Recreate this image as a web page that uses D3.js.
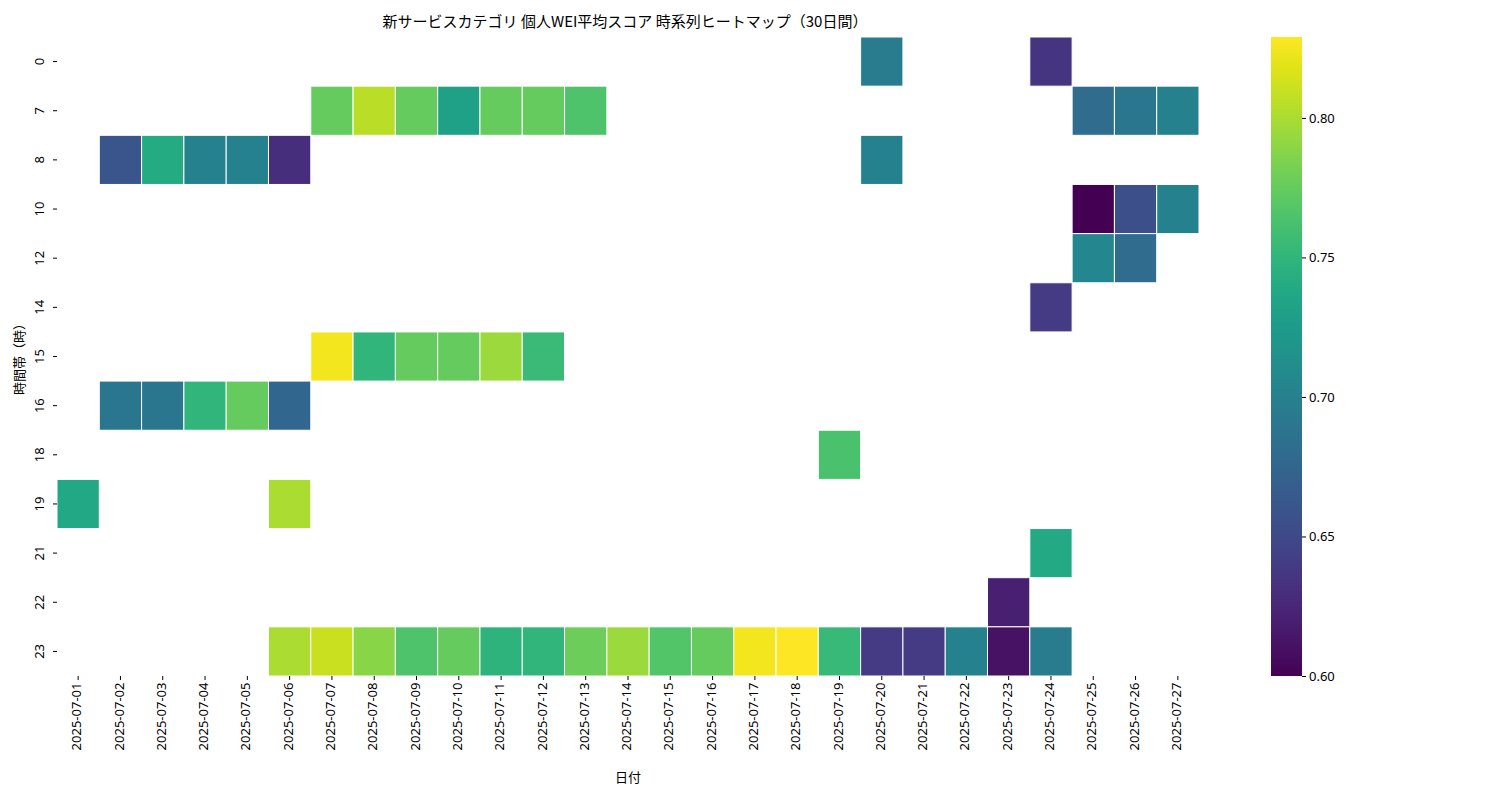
<!DOCTYPE html>
<html><head><meta charset="utf-8">
<script src="https://cdn.jsdelivr.net/npm/d3@7"></script>
<style>body{margin:0;background:#fff;font-family:"Noto Sans CJK JP","Noto Sans",sans-serif;}</style>
</head><body><svg id="chart" width="1500" height="800"></svg>
<script>
var dates = d3.range(1, 28).map(function(d) { return "2025-07-" + (d < 10 ? "0" + d : d); });
var hours = [0, 7, 8, 10, 12, 14, 15, 16, 18, 19, 21, 22, 23];
// [hour, day, value]
var cells = [
  [0, 20, 0.695], [0, 24, 0.635],
  [7, 7, 0.775], [7, 8, 0.805], [7, 9, 0.775], [7, 10, 0.73], [7, 11, 0.775], [7, 12, 0.775], [7, 13, 0.765],
  [7, 25, 0.68], [7, 26, 0.69], [7, 27, 0.70],
  [8, 2, 0.66], [8, 3, 0.74], [8, 4, 0.70], [8, 5, 0.70], [8, 6, 0.63], [8, 20, 0.70],
  [10, 25, 0.60], [10, 26, 0.655], [10, 27, 0.70],
  [12, 25, 0.705], [12, 26, 0.68],
  [14, 24, 0.64],
  [15, 7, 0.825], [15, 8, 0.75], [15, 9, 0.775], [15, 10, 0.775], [15, 11, 0.795], [15, 12, 0.755],
  [16, 2, 0.69], [16, 3, 0.69], [16, 4, 0.75], [16, 5, 0.775], [16, 6, 0.675],
  [18, 19, 0.763],
  [19, 1, 0.737], [19, 6, 0.80],
  [21, 24, 0.738],
  [22, 23, 0.62],
  [23, 6, 0.80], [23, 7, 0.81], [23, 8, 0.788], [23, 9, 0.765], [23, 10, 0.775], [23, 11, 0.748],
  [23, 12, 0.75], [23, 13, 0.778], [23, 14, 0.795], [23, 15, 0.767], [23, 16, 0.775], [23, 17, 0.825],
  [23, 18, 0.829], [23, 19, 0.754], [23, 20, 0.64], [23, 21, 0.64], [23, 22, 0.70], [23, 23, 0.61], [23, 24, 0.695]
];
var cbTicks = [0.60, 0.65, 0.70, 0.75, 0.80];
var vmin = 0.60, vmax = 0.829;

var svg = d3.select("#chart");
var x = d3.scaleBand().domain(dates).range([57, 1199]);
var y = d3.scaleBand().domain(hours).range([37, 676]);
var color = d3.scaleSequential(d3.interpolateViridis).domain([vmin, vmax]);

svg.append("g").selectAll("rect").data(cells).enter().append("rect")
  .attr("x", function(d) { return x(dates[d[1] - 1]); })
  .attr("y", function(d) { return y(d[0]); })
  .attr("width", x.bandwidth()).attr("height", y.bandwidth())
  .attr("fill", function(d) { return color(d[2]); })
  .attr("stroke", "#fff").attr("stroke-width", 1);

var xa = svg.append("g").attr("transform", "translate(0,676)")
  .call(d3.axisBottom(x).tickSize(4).tickPadding(3));
xa.select(".domain").remove();
xa.selectAll("text").attr("transform", "rotate(-90)").attr("text-anchor", "end")
  .attr("dx", "-0.5em").attr("dy", "-0.3em").style("font-size", "13px").style("font-family", "Noto Sans");

var ya = svg.append("g").attr("transform", "translate(57,0)")
  .call(d3.axisLeft(y).tickSize(4).tickPadding(12));
ya.select(".domain").remove();
ya.selectAll("text").attr("transform", function() {
    return "rotate(-90," + d3.select(this).attr("x") + ",0)";
  }).attr("text-anchor", "middle").attr("dy", "0").attr("dx", "0")
  .style("font-size", "13px").style("font-family", "Noto Sans");
ya.selectAll(".tick text").each(function() {
  var t = d3.select(this);
  t.attr("x", 0).attr("transform", "translate(-18,0) rotate(-90)").attr("dy", "0.35em");
});

svg.append("text").attr("x", 625).attr("y", 27).attr("text-anchor", "middle")
  .style("font-size", "15px").text("新サービスカテゴリ 個人WEI平均スコア 時系列ヒートマップ（30日間）");
svg.append("text").attr("x", 628).attr("y", 782).attr("text-anchor", "middle")
  .style("font-size", "13px").text("日付");
svg.append("text").attr("transform", "translate(24,356) rotate(-90)").attr("text-anchor", "middle")
  .style("font-size", "13px").text("時間帯（時）");

// colorbar
var defs = svg.append("defs");
var grad = defs.append("linearGradient").attr("id", "cb").attr("x1", 0).attr("y1", 1).attr("x2", 0).attr("y2", 0);
d3.range(0, 1.001, 0.05).forEach(function(t) {
  grad.append("stop").attr("offset", t).attr("stop-color", d3.interpolateViridis(t));
});
var cy = d3.scaleLinear().domain([vmin, vmax]).range([676, 37]);
svg.append("rect").attr("x", 1271).attr("y", 37).attr("width", 31).attr("height", 639).attr("fill", "url(#cb)");
var ca = svg.append("g").attr("transform", "translate(1302,0)")
  .call(d3.axisRight(cy).tickValues(cbTicks).tickFormat(d3.format(".2f")).tickSize(4));
ca.select(".domain").remove();
ca.selectAll("text").style("font-size", "13px").style("font-family", "Noto Sans");
</script></body></html>
